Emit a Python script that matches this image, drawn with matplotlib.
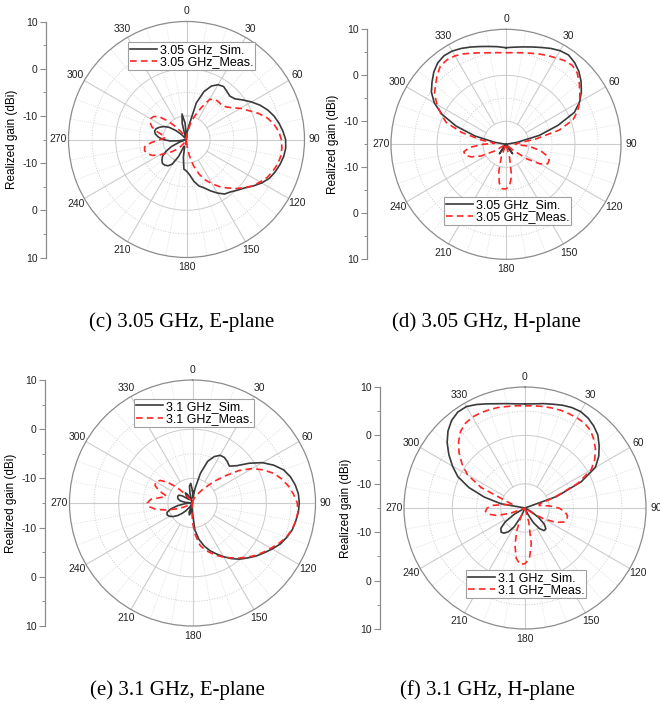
import numpy as np
import matplotlib
matplotlib.use('Agg')
import matplotlib.pyplot as plt

plt.rcParams['font.family'] = ['Liberation Sans', 'DejaVu Sans']

# angle (deg, clockwise from top) and realized gain (dBi)
angles = list(range(0, 360, 5))

c_sim = [-14.5, -13.5, -12, -7, -4.2, -2.5, -1.6, -1.3, -1.7, -2.0, -1.6, -0.4,
         0.9, 2.2, 3.3, 4.2, 4.9, 5.5, 6.0, 6.1, 5.9, 5.5, 5.0, 4.4,
         3.4, 2.2, 1.0, 0.2, -0.5, -0.9, -1.9, -3.0, -4.1, -4.8, -6.0, -7.5,
         -8.3, -8.7, -11.2, -13.5, -13.5, -11, -9, -8.2, -7.9, -7.8, -8.2, -8.8,
         -10, -11.5, -13.5, -15, -13.5, -11.5, -10, -9, -8.3, -8.0, -8.2, -8.8,
         -9.5, -10.5, -12, -13.5, -15, -15, -15, -15, -14, -11.5, -9.5, -11.5]
c_meas = [-15, -14, -13, -11, -9.5, -7.5, -5.2, -4.6, -4.5, -4.6, -4.2, -3.3,
          -1.8, -0.5, 1.2, 2.7, 3.8, 4.6, 5.1, 5.3, 5.3, 5.0, 4.5, 3.9,
          3.0, 2.1, 0.9, -0.3, -1.6, -2.8, -4.2, -5.5, -7.2, -9.2, -11.5, -13.5,
          -15, -15, -14, -15, -15, -15, -15, -14, -13, -12, -11, -10,
          -8.5, -7, -6.2, -5.8, -6, -7.5, -9.5, -10.5, -10, -8.5, -7.2, -6.5,
          -6.2, -6.5, -7.5, -9.5, -11.5, -13, -14, -15, -15, -15, -15, -15]

d_sim = [6.0, 6.2, 6.5, 6.9, 7.4, 8.0, 8.5, 8.7, 8.2, 7.4, 6.3, 5.0,
         3.5, 1.4, -3.0, -7.5, -12.5, -15, -15, -15, -15, -15, -15, -15,
         -15, -15, -15, -15, -14, -12.5, -14, -15, -15, -15, -15, -15,
         -15, -15, -15, -15, -15, -15, -14, -12.5, -14, -15, -15, -15,
         -15, -15, -15, -15, -15, -15, -15, -15, -12.5, -8, -3.5, 0.3,
         3.0, 4.8, 6.0, 7.2, 8.1, 8.5, 8.4, 8.0, 7.5, 7.0, 6.6, 6.3]
d_meas = [4.9, 5.0, 5.2, 5.5, 5.9, 6.3, 6.7, 7.2, 7.4, 6.9, 5.8, 4.6,
          3.5, 2.2, 0.5, -3.0, -8.5, -12.5, -13, -10, -7.5, -6, -5, -5,
          -6.5, -9.5, -13, -15, -15, -15, -15, -15, -15, -12, -8, -6,
          -5.3, -5.3, -6.5, -9, -12, -15, -15, -15, -15, -15, -15, -15,
          -12, -9, -7, -5.8, -5.7, -7, -10, -12.5, -9.5, -5, -1.2, 0.6,
          2.3, 4.0, 5.0, 6.2, 7.2, 7.4, 7.2, 6.7, 6.1, 5.6, 5.2, 5.0]

e_sim = [-12.5, -14, -12, -8.7, -6.0, -4.6, -3.8, -3.7, -4.0, -4.4, -3.2, -0.9,
         1.4, 3.2, 4.7, 5.6, 6.2, 6.6, 6.7, 6.6, 6.3, 6.0, 5.4, 4.7,
         3.7, 2.7, 1.8, 0.8, -0.1, -1.2, -2.4, -3.6, -4.7, -6.0, -7.5, -9.5,
         -13, -14, -13, -12.5, -13, -15, -15, -14, -13, -12, -11, -10.2,
         -9.6, -9.3, -9.5, -10.5, -12, -13.5, -15, -13.5, -12.5, -12, -11.8, -11.7,
         -11.8, -12.5, -13.5, -14, -13, -12.5, -13, -14.5, -15, -13, -11.5, -11]
e_meas = [-15, -15, -15, -14.5, -14, -13.5, -13, -12, -10.8, -8.8, -6.5, -3.5,
          -1.0, 0.9, 2.6, 3.8, 4.8, 5.6, 6.3, 6.5, 6.3, 5.9, 5.3, 4.4,
          3.4, 2.5, 1.6, 0.6, -0.4, -1.4, -2.3, -3.2, -4.2, -5.1, -6.3, -8.5,
          -11, -13.5, -15, -15, -15, -15, -15, -15, -15, -15, -15, -15,
          -14, -13, -11.5, -9.5, -7.5, -6.2, -5.8, -6.5, -8.5, -9.5, -7.8, -6.6,
          -6.4, -7, -8.5, -10.5, -12.5, -14, -15, -15, -15, -15, -15, -15]

f_sim = [6.5, 6.6, 6.9, 7.2, 7.6, 7.9, 8.0, 7.7, 7.1, 6.3, 5.0, 3.6,
         1.8, -2.2, -8, -15, -15, -15, -15, -15, -15, -15, -15, -15,
         -13.5, -11.5, -9.8, -8.9, -8.9, -9.8, -11.5, -13.5, -15, -15, -15, -15,
         -15, -15, -15, -15, -15, -13, -10.5, -9, -8.2, -8.0, -8.5, -10,
         -12.5, -15, -15, -15, -15, -15, -15, -15, -10, -6.3, -2.7, 0.3,
         2.3, 4.2, 6.0, 7.5, 8.6, 9.2, 9.2, 8.6, 7.9, 7.3, 6.9, 6.6]
f_meas = [6.1, 6.2, 6.3, 6.4, 6.5, 6.5, 6.5, 6.4, 6.0, 5.1, 4.0, 2.6,
          0.8, -3.0, -8.5, -12, -12, -10, -8, -6.8, -6.1, -6.0, -6.5, -8,
          -10.5, -13, -15, -15, -15, -15, -15, -15, -15, -12, -7.5, -4.5,
          -3.5, -3.3, -4.5, -7, -10, -13, -15, -15, -15, -15, -15, -15,
          -15, -15, -12, -9, -7.5, -6.8, -7.2, -8.5, -11, -12.5, -11, -5,
          -1.3, 0.9, 2.8, 4.4, 5.7, 6.4, 6.7, 6.7, 6.6, 6.5, 6.3, 6.2]

angle_labels = [str(a) for a in range(0, 360, 30)]
captions = ['(c) 3.05 GHz, E-plane', '(d) 3.05 GHz, H-plane',
            '(e) 3.1 GHz, E-plane', '(f) 3.1 GHz, H-plane']
freqs = ['3.05', '3.05', '3.1', '3.1']

W, H = 660, 707
fig = plt.figure(figsize=(W / 100, H / 100), dpi=100)

# layout in pixels: centre x, centre y, radius, left axis x, legend corner, caption centre
panels = [
    dict(cx=186.5, cy=139.5, R=118, axx=46, leg=(128, 42), cap=(182, 322), sim=c_sim, meas=c_meas),
    dict(cx=506, cy=144.3, R=115, axx=367, leg=(444, 197), cap=(486, 322), sim=d_sim, meas=d_meas),
    dict(cx=192.5, cy=503, R=123, axx=45, leg=(134, 399), cap=(177, 690), sim=e_sim, meas=e_meas),
    dict(cx=525, cy=508, R=121, axx=380, leg=(466, 570), cap=(487, 690), sim=f_sim, meas=f_meas),
]

grid_c = '#cccccc'
rmin, rmax = -15, 10

for i, p in enumerate(panels):
    cx, cy, R = p['cx'], p['cy'], p['R']
    ax = fig.add_axes([(cx - R) / W, 1 - (cy + R) / H, 2 * R / W, 2 * R / H], projection='polar')
    ax.set_theta_zero_location('N')
    ax.set_theta_direction(-1)
    ax.set_ylim(rmin, rmax)
    ax.set_xticks([])
    ax.set_yticks([])
    ax.grid(False)
    ax.spines['polar'].set_color('#8c8c8c')
    ax.spines['polar'].set_linewidth(0.9)

    t = np.linspace(0, 2 * np.pi, 361)
    for r, ls in [(-10, '-'), (0, '-'), (-5, ':'), (5, ':')]:
        ax.plot(t, np.full_like(t, r), color=grid_c, lw=0.7, ls=ls, zorder=1)
    for a in range(0, 360, 10):
        th = np.deg2rad(a)
        if a % 90 == 0:
            ax.plot([th, th], [rmin, rmax], color=grid_c, lw=0.8, zorder=1)
        elif a % 30 == 0:
            ax.plot([th, th], [-10, rmax], color=grid_c, lw=0.8, zorder=1)
        else:
            ax.plot([th, th], [-10, rmax], color='#d8d8d8', lw=0.6, ls=':', zorder=1)

    lab_r = rmax + 10 / R * (rmax - rmin)
    for a, s in zip(range(0, 360, 30), angle_labels):
        ax.text(np.deg2rad(a), lab_r, s, ha='center', va='center', fontsize=7.5, color='#222222')

    th = np.deg2rad(angles + [360])
    sim = np.clip(p['sim'] + [p['sim'][0]], rmin, rmax)
    meas = np.clip(p['meas'] + [p['meas'][0]], rmin, rmax)
    l1, = ax.plot(th, sim, color='#3a3a3a', lw=1.2, zorder=3)
    l2, = ax.plot(th, meas, color='#ff2626', lw=1.2, ls=(0, (4, 2.5)), zorder=3)

    lx, ly = p['leg']
    leg = ax.legend([l1, l2], [freqs[i] + ' GHz_Sim.', freqs[i] + ' GHz_Meas.'],
                    loc='upper left', bbox_to_anchor=(lx / W, 1 - ly / H),
                    bbox_transform=fig.transFigure, fontsize=9, frameon=True,
                    fancybox=False, framealpha=1, edgecolor='#a0a0a0',
                    borderpad=0.15, labelspacing=0.05, handlelength=2.2,
                    handletextpad=0.2, borderaxespad=0)
    leg.get_frame().set_linewidth(0.8)

    # left gain axis
    ay = fig.add_axes([p['axx'] / W, 1 - (cy + R) / H, 0.0005, 2 * R / H])
    ay.set_ylim(-25, 25)
    ay.set_xticks([])
    for s in ['top', 'right', 'bottom']:
        ay.spines[s].set_visible(False)
    ay.spines['left'].set_color('#8c8c8c')
    ay.spines['left'].set_linewidth(0.9)
    ay.set_yticks([-25, -15, -5, 5, 15, 25])
    ay.set_yticklabels(['10', '0', '-10', '-10', '0', '10'])
    ay.set_yticks([-20, -10, 0, 10, 20], minor=True)
    ay.tick_params(axis='y', which='major', length=4, width=0.8, color='#8c8c8c',
                   labelsize=7.5, labelcolor='#222222', pad=2)
    ay.tick_params(axis='y', which='minor', length=2, width=0.7, color='#8c8c8c')
    ay.set_ylabel('Realized gain (dBi)', fontsize=8.5, labelpad=3)
    ay.patch.set_visible(False)

    fig.text(p['cap'][0] / W, 1 - p['cap'][1] / H, captions[i], ha='center', va='center',
             fontsize=15, family='Liberation Serif')

fig.savefig('out.png', dpi=100)
